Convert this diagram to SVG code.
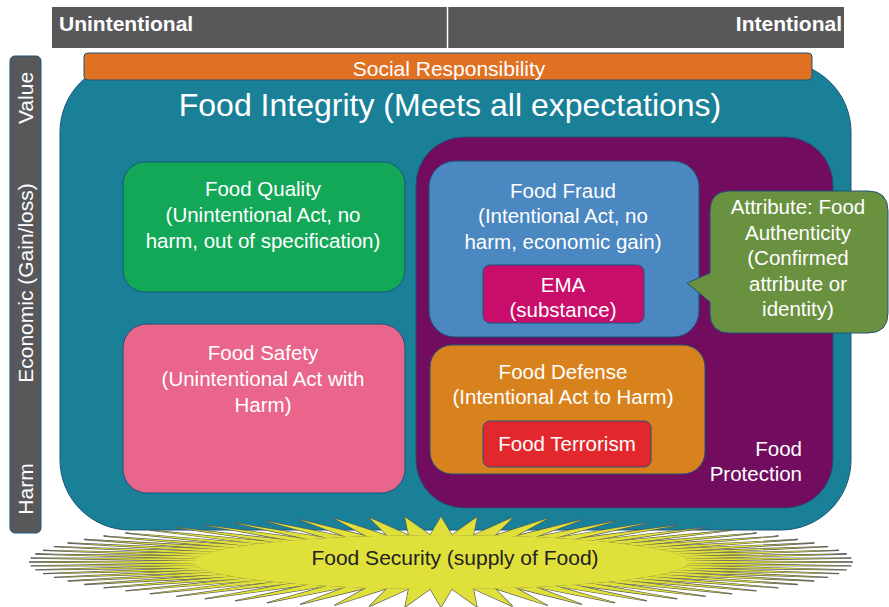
<svg xmlns="http://www.w3.org/2000/svg" xmlns:xlink="http://www.w3.org/1999/xlink" width="889" height="607" viewBox="0 0 889 607">
<style>
.t{font-family:"Liberation Sans",Arial,sans-serif;fill:#fff;font-size:20.5px;text-anchor:middle}
.b{stroke:#1d5577;stroke-width:1}
.starS{fill:#dfe03a;stroke:#5a5a5a;stroke-width:1.3}
.starF{fill:#dfe03a;stroke:none}
</style>
<defs>
<polygon id="sp" points="1,0 0.5994,0.0262 0.5994,-0.0262" vector-effect="non-scaling-stroke"/>
<g id="s6">
<use href="#sp"/>
<use href="#sp" transform="rotate(5)"/>
<use href="#sp" transform="rotate(10)"/>
<use href="#sp" transform="rotate(15)"/>
<use href="#sp" transform="rotate(20)"/>
<use href="#sp" transform="rotate(25)"/>
</g>
<g id="ring">
<use href="#s6"/>
<use href="#s6" transform="rotate(30)"/>
<use href="#s6" transform="rotate(60)"/>
<use href="#s6" transform="rotate(90)"/>
<use href="#s6" transform="rotate(120)"/>
<use href="#s6" transform="rotate(150)"/>
<use href="#s6" transform="rotate(180)"/>
<use href="#s6" transform="rotate(210)"/>
<use href="#s6" transform="rotate(240)"/>
<use href="#s6" transform="rotate(270)"/>
<use href="#s6" transform="rotate(300)"/>
<use href="#s6" transform="rotate(330)"/>
</g>
</defs>
<rect width="889" height="607" fill="#fff"/>

<g id="axis-top">
<rect x="52" y="7" width="792" height="41" fill="#58585a"/>
<line x1="447.5" y1="7" x2="447.5" y2="48" stroke="#fff" stroke-width="1.5"/>
<text class="t" x="59" y="31" style="text-anchor:start;font-weight:bold;font-size:21px">Unintentional</text>
<text class="t" x="842" y="31" style="text-anchor:end;font-weight:bold;font-size:21px">Intentional</text>
</g>

<g id="axis-left">
<rect x="10" y="56" width="31" height="477" rx="5" fill="#58585a" class="b"/>
<text class="t" transform="translate(33,98) rotate(-90)" style="font-size:21px">Value</text>
<text class="t" transform="translate(33,283) rotate(-90)" style="font-size:21px">Economic (Gain/loss)</text>
<text class="t" transform="translate(33,489) rotate(-90)" style="font-size:21px">Harm</text>
</g>

<g id="food-integrity">
<rect x="60" y="62" width="791" height="468" rx="70" fill="#1a8098" class="b"/>
<text class="t" x="450" y="116" style="font-size:32px">Food Integrity (Meets all expectations)</text>
</g>

<g id="social-responsibility">
<rect x="84" y="53" width="728" height="27" rx="4" fill="#e07022" class="b"/>
<text class="t" x="449" y="76" style="font-size:21px">Social Responsibility</text>
</g>

<g id="food-quality">
<rect x="123" y="162" width="282" height="130" rx="22" fill="#13a758" class="b"/>
<text class="t" x="263" y="196">Food Quality</text>
<text class="t" x="263" y="222">(Unintentional Act, no</text>
<text class="t" x="263" y="248">harm, out of specification)</text>
</g>

<g id="food-safety">
<rect x="123" y="324" width="282" height="169" rx="24" fill="#e9658b" class="b"/>
<text class="t" x="263" y="360">Food Safety</text>
<text class="t" x="263" y="386">(Unintentional Act with</text>
<text class="t" x="263" y="412">Harm)</text>
</g>

<g id="food-protection">
<rect x="416" y="137" width="417" height="371" rx="48" fill="#710c5f" class="b"/>
<text class="t" x="802" y="456" style="text-anchor:end">Food</text>
<text class="t" x="802" y="481" style="text-anchor:end">Protection</text>
</g>

<g id="food-fraud">
<rect x="429" y="161" width="270" height="176" rx="26" fill="#4b87c0" class="b"/>
<text class="t" x="563" y="198">Food Fraud</text>
<text class="t" x="563" y="223">(Intentional Act, no</text>
<text class="t" x="563" y="249">harm, economic gain)</text>
</g>

<g id="ema">
<rect x="483" y="265" width="161" height="58" rx="7" fill="#c90d6a" class="b"/>
<text class="t" x="563" y="292">EMA</text>
<text class="t" x="563" y="317">(substance)</text>
</g>

<g id="food-defense">
<rect x="430" y="345" width="275" height="129" rx="22" fill="#d8821e" class="b"/>
<text class="t" x="563" y="379">Food Defense</text>
<text class="t" x="563" y="404">(Intentional Act to Harm)</text>
</g>

<g id="food-terrorism">
<rect x="483" y="421" width="168" height="46" rx="7" fill="#e2282c" class="b"/>
<text class="t" x="567" y="451">Food Terrorism</text>
</g>

<g id="food-authenticity">
<path d="M730,191 H868 Q888,191 888,211 V313 Q888,333 868,333 H730 Q710,333 710,313 V302 L687,283 L710,273 V211 Q710,191 730,191 Z" fill="#6a913f" class="b"/>
<text class="t" x="798" y="214">Attribute: Food</text>
<text class="t" x="798" y="240">Authenticity</text>
<text class="t" x="798" y="265">(Confirmed</text>
<text class="t" x="798" y="291">attribute or</text>
<text class="t" x="798" y="316">identity)</text>
</g>

<g id="food-security">
<g transform="translate(441,562) scale(412,45)">
<use href="#ring" class="starS"/>
<use href="#ring" class="starF"/>
<circle r="0.6" fill="#dfe03a"/>
</g>
<text class="t" x="455" y="565" style="fill:#222;font-size:21px">Food Security (supply of Food)</text>
</g>
</svg>
